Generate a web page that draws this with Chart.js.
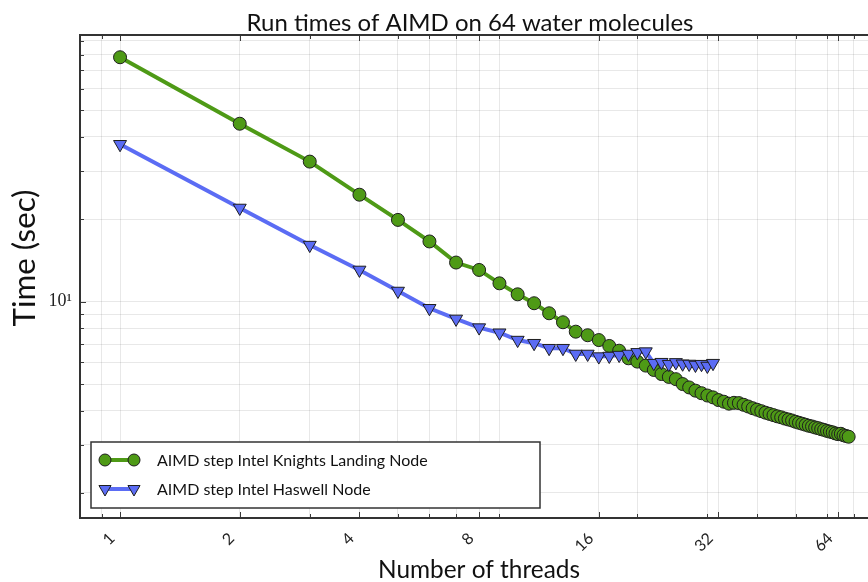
<!DOCTYPE html>
<html>
<head>
<meta charset="utf-8">
<script src="https://cdn.jsdelivr.net/npm/chart.js@4.4.1/dist/chart.umd.min.js"></script>
<style>
  html, body { margin: 0; padding: 0; background: #fff; overflow: hidden; }
</style>
</head>
<body>
<canvas id="runChart" width="868" height="582"></canvas>
<script>
// data
const threadsKNL = [1, 2, 3, 4, 5, 6, 7, 8, 9, 10, 11, 12, 13, 14, 15, 16, 17, 18, 19, 20,
  21, 22, 23, 24, 25, 26, 27, 28, 29, 30, 31, 32, 33, 34, 35, 36, 37, 38, 39, 40,
  41, 42, 43, 44, 45, 46, 47, 48, 49, 50, 51, 52, 53, 54, 55, 56, 57, 58, 59, 60,
  61, 62, 63, 64, 65, 66, 67, 68];
const timesKNL = [78.2, 44.7, 32.5, 24.6, 19.9, 16.6, 13.9, 13.06, 11.67, 10.64,
  9.87, 9.07, 8.41, 7.77, 7.54, 7.24, 6.89, 6.62, 6.21, 6.04,
  5.84, 5.63, 5.44, 5.31, 5.21, 5.00, 4.86, 4.73, 4.63, 4.54,
  4.47, 4.37, 4.31, 4.24, 4.27, 4.26, 4.20, 4.14, 4.08, 4.03,
  3.98, 3.93, 3.89, 3.85, 3.81, 3.78, 3.74, 3.71, 3.68, 3.64,
  3.61, 3.58, 3.55, 3.52, 3.50, 3.47, 3.45, 3.42, 3.40, 3.37,
  3.35, 3.33, 3.30, 3.28, 3.29, 3.25, 3.23, 3.21];

const threadsHaswell = [1, 2, 3, 4, 5, 6, 7, 8, 9, 10, 11, 12, 13, 14, 15, 16,
  17, 18, 19, 20, 21, 22, 23, 24, 25, 26, 27, 28, 29, 30, 31];
const timesHaswell = [37.6, 22.0, 16.1, 13.06, 10.94, 9.46, 8.65, 8.04, 7.70, 7.24,
  7.05, 6.76, 6.76, 6.44, 6.44, 6.30, 6.33, 6.38, 6.44, 6.53,
  6.57, 5.96, 6.01, 5.91, 6.00, 5.93, 5.92, 5.87, 5.91, 5.82, 5.96];

const seriesLabels = ['AIMD step Intel Knights Landing Node', 'AIMD step Intel Haswell Node'];

// axis ticks / grid positions
const xTickValues = [0.9, 1, 2, 3, 4, 5, 6, 7, 8, 9, 16, 20, 30, 32, 40, 50, 60, 64, 70];
const xTickLabels = { '1': '1', '2': '2', '4': '4', '8': '8', '16': '16', '32': '32', '64': '64' };
const yTickValues = [2, 3, 4, 5, 6, 7, 8, 9, 10, 20, 30, 40, 50, 60, 70, 80, 90];
const yTickLabels = { '10': '10\u00b9' };

const GREEN = '#4e9a16';
const BLUE = '#5b6cf4';
const SANS = 'Lato, "DejaVu Sans", sans-serif';

function toPoints(xs, ys) {
  return xs.map((x, i) => ({ x: x, y: ys[i] }));
}

// font size so that the text fills a given width
function fitFont(ctx, text, width) {
  ctx.font = '20px ' + SANS;
  return 20 * width / ctx.measureText(text).width;
}

// frame + inward tick marks (top/bottom/left)
const framePlugin = {
  id: 'frame',
  afterDatasetsDraw(chart) {
    const { ctx, chartArea: a, scales: { x, y } } = chart;
    ctx.save();
    ctx.strokeStyle = '#3a3a3a';
    ctx.lineWidth = 1;
    ctx.beginPath();
    xTickValues.forEach(v => {
      const px = Math.round(x.getPixelForValue(v)) + 0.5;
      const len = xTickLabels[String(v)] ? 6 : 4;
      ctx.moveTo(px, a.bottom); ctx.lineTo(px, a.bottom - len);
      ctx.moveTo(px, a.top); ctx.lineTo(px, a.top + len);
    });
    yTickValues.forEach(v => {
      const py = Math.round(y.getPixelForValue(v)) + 0.5;
      const len = yTickLabels[String(v)] ? 6 : 4;
      ctx.moveTo(a.left, py); ctx.lineTo(a.left + len, py);
    });
    ctx.stroke();
    ctx.lineWidth = 2;
    ctx.strokeStyle = '#333';
    ctx.beginPath();
    ctx.moveTo(a.right, a.top); ctx.lineTo(a.left, a.top);
    ctx.lineTo(a.left, a.bottom); ctx.lineTo(a.right, a.bottom);
    ctx.stroke();
    ctx.restore();
  }
};

// legend box (inside the plot, lower left) and the titles
const textPlugin = {
  id: 'texts',
  afterDraw(chart) {
    const ctx = chart.ctx;
    ctx.save();

    // legend
    ctx.fillStyle = '#fff';
    ctx.fillRect(91, 442, 449, 66);
    ctx.strokeStyle = '#333';
    ctx.lineWidth = 1.5;
    ctx.strokeRect(91, 442, 449, 66);
    const rows = [
      { color: GREEN, style: 'circle', rot: 0, r: 6, y: 460 },
      { color: BLUE, style: 'triangle', rot: 180, r: 7, y: 489 }
    ];
    rows.forEach((row, i) => {
      ctx.strokeStyle = row.color;
      ctx.lineWidth = 4;
      ctx.beginPath();
      ctx.moveTo(105, row.y); ctx.lineTo(134, row.y);
      ctx.stroke();
      ctx.fillStyle = row.color;
      ctx.strokeStyle = '#1e1e1e';
      ctx.lineWidth = 1;
      [105, 134].forEach(px => {
        Chart.helpers.drawPoint(ctx, { pointStyle: row.style, rotation: row.rot, radius: row.r, borderWidth: 1 }, px, row.y);
      });
      ctx.fillStyle = '#111';
      ctx.font = '16px ' + SANS;
      ctx.textAlign = 'left';
      ctx.textBaseline = 'middle';
      ctx.fillText(seriesLabels[i], 157, row.y + 1);
    });

    ctx.fillStyle = '#111';
    ctx.textAlign = 'center';
    ctx.textBaseline = 'alphabetic';

    const title = 'Run times of AIMD on 64 water molecules';
    ctx.font = fitFont(ctx, title, 447) + 'px ' + SANS;
    ctx.fillText(title, 470, 31);

    const xTitle = 'Number of threads';
    ctx.font = fitFont(ctx, xTitle, 202) + 'px ' + SANS;
    ctx.fillText(xTitle, 479, 578);

    const yTitle = 'Time (sec)';
    ctx.font = fitFont(ctx, yTitle, 137) + 'px ' + SANS;
    ctx.translate(35, 258);
    ctx.rotate(-Math.PI / 2);
    ctx.fillText(yTitle, 0, 0);

    ctx.restore();
  }
};

const ctx = document.getElementById('runChart').getContext('2d');

const runChart = new Chart(ctx, {
  type: 'line',
  data: {
    datasets: [
      {
        label: seriesLabels[0],
        data: toPoints(threadsKNL, timesKNL),
        borderColor: GREEN,
        backgroundColor: GREEN,
        borderWidth: 4,
        pointStyle: 'circle',
        pointRadius: 6.5,
        pointBorderColor: '#1e1e1e',
        pointBorderWidth: 1,
        pointBackgroundColor: GREEN,
        tension: 0,
        order: 2
      },
      {
        label: seriesLabels[1],
        data: toPoints(threadsHaswell, timesHaswell),
        borderColor: BLUE,
        backgroundColor: BLUE,
        borderWidth: 4,
        pointStyle: 'triangle',
        pointRotation: 180,
        pointRadius: 7.5,
        pointBorderColor: '#1e1e1e',
        pointBorderWidth: 1,
        pointBackgroundColor: BLUE,
        tension: 0,
        order: 1
      }
    ]
  },
  options: {
    responsive: false,
    animation: false,
    devicePixelRatio: 1,
    layout: { autoPadding: false, padding: { top: 35, left: 0, right: 0, bottom: 0 } },
    plugins: {
      legend: { display: false },
      title: { display: false },
      tooltip: { enabled: false }
    },
    scales: {
      x: {
        type: 'logarithmic',
        min: 0.793,
        max: 76.06,
        bounds: 'data',
        afterBuildTicks: scale => { scale.ticks = xTickValues.map(v => ({ value: v })); },
        afterFit: scale => { scale.height = 64; scale.paddingLeft = 0; scale.paddingRight = 0; },
        ticks: {
          autoSkip: false,
          minRotation: 45,
          maxRotation: 45,
          padding: 11,
          labelOffset: -8,
          color: '#222',
          font: { family: SANS, size: 16 },
          callback: v => xTickLabels[String(v)] || ''
        },
        grid: { color: 'rgba(0,0,0,0.09)', lineWidth: 1, drawTicks: false },
        border: { display: false }
      },
      y: {
        type: 'logarithmic',
        min: 1.62,
        max: 94.3,
        bounds: 'data',
        afterBuildTicks: scale => { scale.ticks = yTickValues.map(v => ({ value: v })); },
        afterFit: scale => { scale.width = 80; scale.paddingTop = 0; scale.paddingBottom = 0; },
        ticks: {
          autoSkip: false,
          padding: 8,
          color: '#222',
          font: { family: '"Liberation Serif", "DejaVu Serif", serif', size: 18 },
          callback: v => yTickLabels[String(v)] || ''
        },
        grid: { color: 'rgba(0,0,0,0.09)', lineWidth: 1, drawTicks: false },
        border: { display: false }
      }
    }
  },
  plugins: [framePlugin, textPlugin]
});
</script>
</body>
</html>
